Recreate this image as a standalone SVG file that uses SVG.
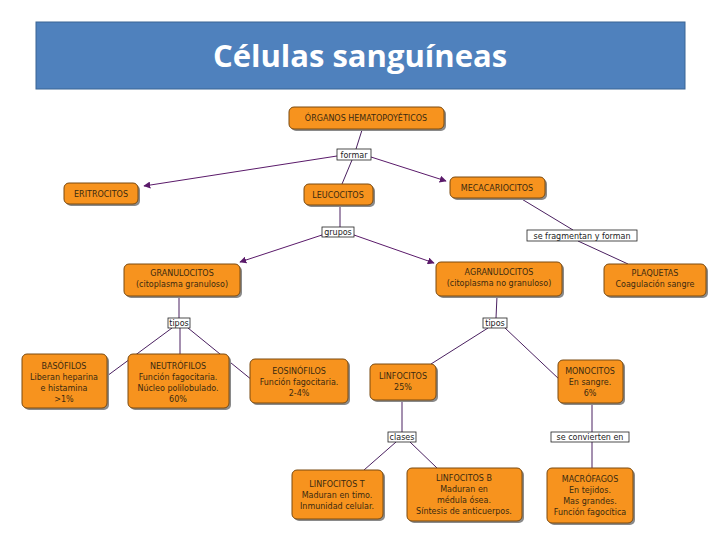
<svg xmlns="http://www.w3.org/2000/svg" width="720" height="540" viewBox="0 0 720 540">
<defs>
<style>
.n rect.b{fill:#F7931E;stroke:#7a4a10;stroke-width:1}
.n rect.s{fill:#8a8a8a}
.n text{font-family:"DejaVu Sans",sans-serif;font-size:8px;fill:#3a2a10;text-anchor:middle}
.l rect{fill:#fff;stroke:#222;stroke-width:0.8}
.l text{font-family:"DejaVu Sans",sans-serif;font-size:8px;fill:#222;text-anchor:middle}
.c line{stroke:#4a2060;stroke-width:1}
.c line.a{stroke:#5a1a6a;marker-end:url(#ar)}
</style>
<marker id="ar" viewBox="0 0 10 10" refX="9" refY="5" markerWidth="7" markerHeight="7" orient="auto"><path d="M0,0 L10,5 L0,10 z" fill="#5a1a6a"/></marker>
</defs>
<rect width="720" height="540" fill="#fff"/>
<g id="title">
<rect x="36" y="22" width="649" height="67" fill="#4F81BD" stroke="#3a6594" stroke-width="1"/>
<text x="360" y="67" font-family="Open Sans, Liberation Sans, sans-serif" font-size="31" font-weight="bold" fill="#fff" text-anchor="middle">Células sanguíneas</text>
</g>
<g id="connectors" class="c">
<line x1="362" y1="130" x2="356" y2="149"/>
<line x1="352" y1="160" x2="342" y2="184"/>
<line class="a" x1="337" y1="156" x2="144" y2="186"/>
<line class="a" x1="371" y1="157" x2="446" y2="181"/>
<line x1="340" y1="205" x2="340" y2="227"/>
<line class="a" x1="322" y1="235" x2="240" y2="262"/>
<line class="a" x1="354" y1="235" x2="434" y2="263"/>
<line x1="520" y1="198" x2="573" y2="230"/>
<line x1="578" y1="241" x2="628" y2="264"/>
<line x1="179" y1="296" x2="179" y2="318"/>
<line x1="172" y1="328" x2="107" y2="376"/>
<line x1="180" y1="328" x2="180" y2="354"/>
<line x1="188" y1="328" x2="252" y2="380"/>
<line x1="497" y1="296" x2="496" y2="318"/>
<line x1="488" y1="328" x2="431" y2="364"/>
<line x1="505" y1="328" x2="560" y2="380"/>
<line x1="402" y1="400" x2="402" y2="432"/>
<line x1="396" y1="442" x2="364" y2="470"/>
<line x1="410" y1="442" x2="437" y2="468"/>
<line x1="592" y1="403" x2="592" y2="432"/>
<line x1="592" y1="442" x2="592" y2="468"/>
</g>
<g id="organos" class="n"><rect class="s" x="291" y="109" width="155" height="22" rx="5"/><rect class="b" x="289" y="107" width="155" height="22" rx="5"/><text x="366" y="121">ÓRGANOS HEMATOPOYÉTICOS</text></g>
<g id="eritrocitos" class="n"><rect class="s" x="66" y="185" width="74" height="21" rx="5"/><rect class="b" x="64" y="183" width="74" height="21" rx="5"/><text x="101" y="197">ERITROCITOS</text></g>
<g id="leucocitos" class="n"><rect class="s" x="306" y="186" width="69" height="21" rx="5"/><rect class="b" x="304" y="184" width="69" height="21" rx="5"/><text x="338" y="198">LEUCOCITOS</text></g>
<g id="mecacariocitos" class="n"><rect class="s" x="452" y="179" width="95" height="21" rx="5"/><rect class="b" x="450" y="177" width="95" height="21" rx="5"/><text x="497" y="191">MECACARIOCITOS</text></g>
<g id="granulocitos" class="n"><rect class="s" x="126" y="266" width="116" height="32" rx="5"/><rect class="b" x="124" y="264" width="116" height="32" rx="5"/><text x="182" y="276">GRANULOCITOS</text><text x="182" y="287">(citoplasma granuloso)</text></g>
<g id="agranulocitos" class="n"><rect class="s" x="438" y="264" width="126" height="34" rx="5"/><rect class="b" x="436" y="262" width="126" height="34" rx="5"/><text x="499" y="275">AGRANULOCITOS</text><text x="499" y="286">(citoplasma no granuloso)</text></g>
<g id="plaquetas" class="n"><rect class="s" x="606" y="266" width="102" height="32" rx="5"/><rect class="b" x="604" y="264" width="102" height="32" rx="5"/><text x="655" y="276">PLAQUETAS</text><text x="655" y="287">Coagulación sangre</text></g>
<g id="basofilos" class="n"><rect class="s" x="24" y="356" width="85" height="54" rx="5"/><rect class="b" x="22" y="354" width="85" height="54" rx="5"/><text x="64" y="369">BASÓFILOS</text><text x="64" y="380">Liberan heparina</text><text x="64" y="391">e histamina</text><text x="64" y="402">&gt;1%</text></g>
<g id="neutrofilos" class="n"><rect class="s" x="130" y="356" width="101" height="54" rx="5"/><rect class="b" x="128" y="354" width="101" height="54" rx="5"/><text x="178" y="369">NEUTRÓFILOS</text><text x="178" y="380">Función fagocitaria.</text><text x="178" y="391">Núcleo polilobulado.</text><text x="178" y="402">60%</text></g>
<g id="eosinofilos" class="n"><rect class="s" x="252" y="361" width="98" height="44" rx="5"/><rect class="b" x="250" y="359" width="98" height="44" rx="5"/><text x="299" y="374">EOSINÓFILOS</text><text x="299" y="385">Función fagocitaria.</text><text x="299" y="396">2-4%</text></g>
<g id="linfocitos" class="n"><rect class="s" x="372" y="366" width="66" height="36" rx="5"/><rect class="b" x="370" y="364" width="66" height="36" rx="5"/><text x="403" y="379">LINFOCITOS</text><text x="403" y="390">25%</text></g>
<g id="monocitos" class="n"><rect class="s" x="560" y="362" width="65" height="43" rx="5"/><rect class="b" x="558" y="360" width="65" height="43" rx="5"/><text x="590" y="374">MONOCITOS</text><text x="590" y="385">En sangre.</text><text x="590" y="396">6%</text></g>
<g id="linfocitost" class="n"><rect class="s" x="294" y="472" width="91" height="49" rx="5"/><rect class="b" x="292" y="470" width="91" height="49" rx="5"/><text x="337" y="487">LINFOCITOS T</text><text x="337" y="498">Maduran en timo.</text><text x="337" y="509">Inmunidad celular.</text></g>
<g id="linfocitosb" class="n"><rect class="s" x="409" y="470" width="115" height="53" rx="5"/><rect class="b" x="407" y="468" width="115" height="53" rx="5"/><text x="464" y="481">LINFOCITOS B</text><text x="464" y="492">Maduran en</text><text x="464" y="503">médula ósea.</text><text x="464" y="514">Síntesis de anticuerpos.</text></g>
<g id="macrofagos" class="n"><rect class="s" x="549" y="470" width="86" height="55" rx="5"/><rect class="b" x="547" y="468" width="86" height="55" rx="5"/><text x="590" y="482">MACRÓFAGOS</text><text x="590" y="493">En tejidos.</text><text x="590" y="504">Mas grandes.</text><text x="590" y="515">Función fagocítica</text></g>
<g id="labels" class="l">
<rect x="337" y="149" width="34" height="11"/><text x="354" y="158">formar</text>
<rect x="322" y="227" width="32" height="10"/><text x="338" y="235">grupos</text>
<rect x="527" y="230" width="110" height="11"/><text x="582" y="239">se fragmentan y forman</text>
<rect x="168" y="318" width="22" height="10"/><text x="179" y="326">tipos</text>
<rect x="483" y="318" width="24" height="10"/><text x="495" y="326">tipos</text>
<rect x="388" y="432" width="28" height="10"/><text x="402" y="440">clases</text>
<rect x="551" y="432" width="78" height="10"/><text x="590" y="440">se convierten en</text>
</g>
</svg>
